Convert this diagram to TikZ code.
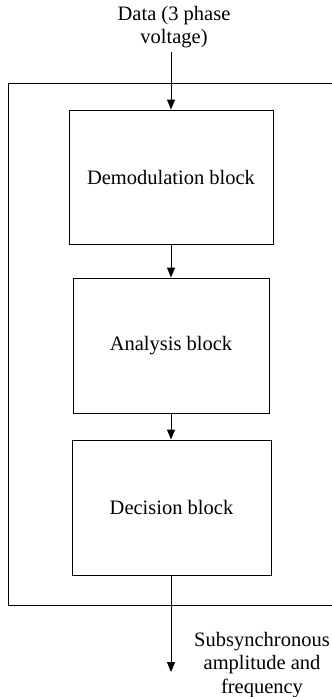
\documentclass[tikz,border=0pt]{standalone}
\usepackage{fontspec}
\setmainfont{Liberation Serif}
\usetikzlibrary{arrows.meta}

\begin{document}
\begin{tikzpicture}[x=1pt,y=-1pt]
        \tikzset{block/.style = {shape=rectangle,draw,line width=1pt,inner sep=0pt,minimum height=135pt}}
        \tikzset{label/.style = {align=center,font=\fontsize{20.5}{23.5}\selectfont}}
        \tikzset{flow/.style = {line width=1pt,-{Triangle[length=10pt,width=8pt]}}}
        \useasboundingbox (0,0) rectangle (332,697);
        % outer frame
        \draw[line width=1pt] (8,83) rectangle (345,605);
        % blocks
        \node[block,minimum width=204pt,minimum height=134pt] (demod) at (171,177) {\fontsize{20.5}{23.5}\selectfont Demodulation block};
        \node[block,minimum width=196pt] (analysis) at (171,345.5) {\fontsize{20.5}{23.5}\selectfont Analysis block};
        \node[block,minimum width=199pt] (decision) at (171.5,507.5) {\fontsize{20.5}{23.5}\selectfont Decision block};
        % input and output
        \node[label] (data) at (174,27) {Data (3 phase\\voltage)};
        \node[label] (result) at (262,665) {Subsynchronous\\amplitude and\\frequency};
        \coordinate (out) at (171,672);
        % flow
        \draw[flow] (data.south -| demod.north) to (demod.north);
        \draw[flow] (demod) to (analysis);
        \draw[flow] (analysis.south) to (analysis.south |- decision.north);
        \draw[flow] (decision.south -| out) to (out);
\end{tikzpicture}
\end{document}
